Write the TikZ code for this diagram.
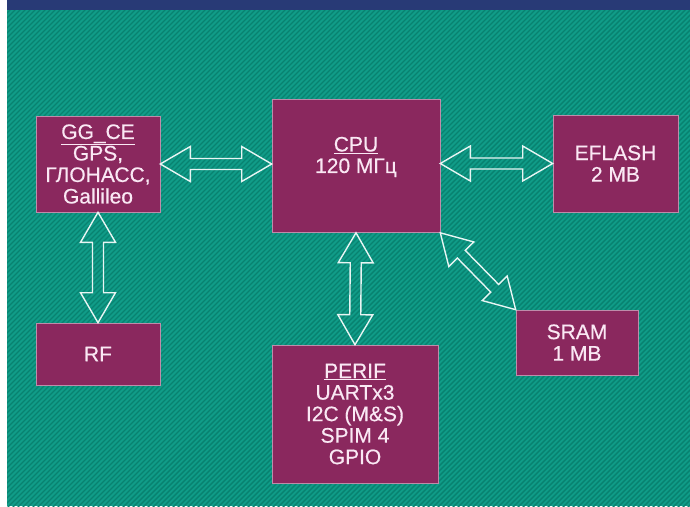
\documentclass[tikz,border=0pt]{standalone}
\usepackage{fontspec}
\setmainfont{Liberation Sans}
\newfontfamily\boxfont{Liberation Sans}[FakeBold=0.4]
\usetikzlibrary{calc}
\definecolor{sea}{RGB}{16,156,136}
\definecolor{seadark}{RGB}{8,130,112}
\definecolor{band}{RGB}{40,58,118}
\definecolor{plum}{RGB}{138,40,94}
\definecolor{plumedge}{RGB}{190,140,170}
\definecolor{pinkwhite}{RGB}{250,232,244}
\newcommand\twoarrow[2]{
\path ($(#1)!30pt!(#2)$) coordinate (h1) ($(#2)!30pt!(#1)$) coordinate (h2);
\draw[arr] (#1) -- ($(h1)!17.5pt!-90:(#2)$) -- ($(h1)!5.5pt!-90:(#2)$)
  -- ($(h2)!5.5pt!90:(#1)$) -- ($(h2)!17.5pt!90:(#1)$) -- (#2)
  -- ($(h2)!17.5pt!-90:(#1)$) -- ($(h2)!5.5pt!-90:(#1)$)
  -- ($(h1)!5.5pt!90:(#2)$) -- ($(h1)!17.5pt!90:(#2)$) -- cycle;
}
\begin{document}
\begin{tikzpicture}[x=1pt,y=-1pt,
  box/.style={draw=plumedge,line width=.6pt,fill=plum,inner sep=0pt},
  txt/.style={text=pinkwhite,align=center,font=\boxfont\fontsize{21}{21.5}\selectfont},
  arr/.style={draw=white!90!sea,line width=1.4pt,line join=miter}]
\useasboundingbox (0,0) rectangle (690,506);
\fill[white] (0,0) rectangle (690,506);
\fill[sea] (7,10) rectangle (690,506);
\begin{scope}
\clip (7,10) rectangle (690,506);
\foreach \i in {0,5,...,1220}
  \draw[seadark,line width=1.4pt] ({\i-520},520) -- ++(520,-520);
\end{scope}
\fill[band] (7,0) rectangle (690,10);
% blocks
\node[box,minimum width=124,minimum height=96] (gg) at (98,164) {};
\node[txt] at (gg) {\underline{GG\_CE}\\GPS,\\ГЛОНАСС,\\Gallileo};
\node[box,minimum width=168,minimum height=133] (cpu) at (356,166) {};
\node[txt] at (356,157) {\underline{CPU}\\120 МГц};
\node[box,minimum width=125,minimum height=97] (ef) at (615.5,163.5) {};
\node[txt] at (ef) {EFLASH\\2 MB};
\node[box,minimum width=124,minimum height=62] (rf) at (98,354) {};
\node[txt] at (rf) {RF};
\node[box,minimum width=122,minimum height=65] (sram) at (577,342.5) {};
\node[txt] at (sram) {SRAM\\1 MB};
\node[box,minimum width=166,minimum height=138] (perif) at (355,414) {};
\node[txt] at (perif) {\underline{PERIF}\\UARTx3\\I2C (M\&S)\\SPIM 4\\GPIO};
% links
\twoarrow{gg.east}{cpu.west |- gg.east}
\twoarrow{cpu.east |- ef.west}{ef.west}
\twoarrow{gg.south}{rf.north}
\twoarrow{cpu.south}{perif.north}
\twoarrow{cpu.south east}{sram.north west}
\end{tikzpicture}
\end{document}
